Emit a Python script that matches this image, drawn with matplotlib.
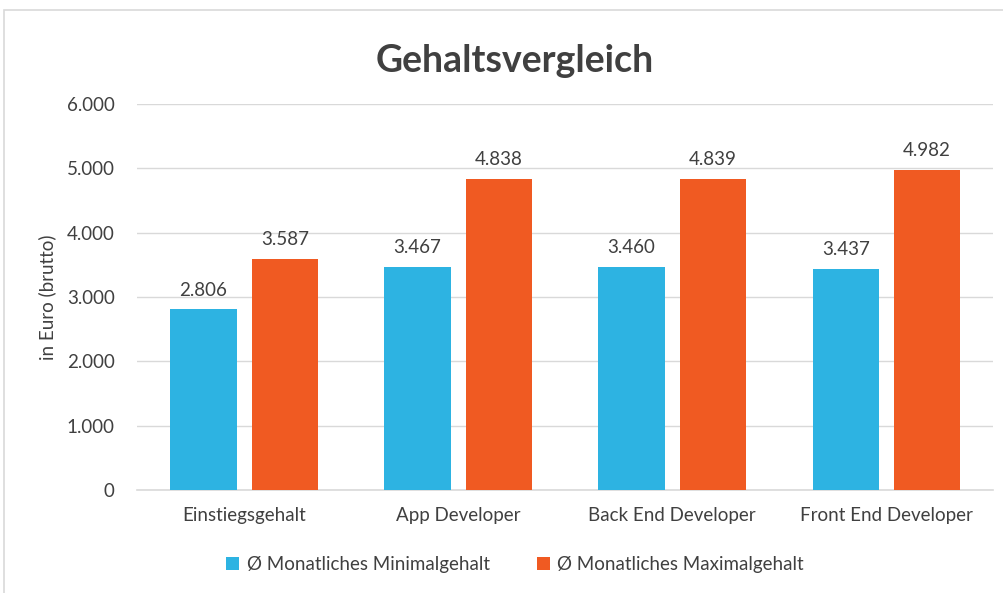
import matplotlib.pyplot as plt
import numpy as np
from matplotlib.patches import Rectangle
from matplotlib.ticker import FuncFormatter

plt.rcParams['font.family'] = ['Lato', 'DejaVu Sans']

categories = ["Einstiegsgehalt", "App Developer", "Back End Developer", "Front End Developer"]
min_gehalt = [2806, 3467, 3460, 3437]
max_gehalt = [3587, 4838, 4839, 4982]
series_names = ["Ø Monatliches Minimalgehalt", "Ø Monatliches Maximalgehalt"]

blue = "#2DB3E2"
orange = "#F05A22"
grid_c = "#D9D9D9"
text_c = "#404040"


def de_fmt(v, pos=None):
    return f"{int(round(v)):,}".replace(",", ".")


fig = plt.figure(figsize=(10.04, 5.93), dpi=100)
ax = fig.add_axes([0.1365, 0.1737, 0.853, 0.6509])

# chart frame
fig.patches.append(Rectangle((0.004, -0.01), 1.2, 0.993, transform=fig.transFigure,
                             fill=False, edgecolor=grid_c, linewidth=1.2))

x = np.arange(len(categories))
w = 0.31
off = 0.19
b1 = ax.bar(x - off, min_gehalt, w, color=blue, label=series_names[0], zorder=3)
b2 = ax.bar(x + off, max_gehalt, w, color=orange, label=series_names[1], zorder=3)

for bars in (b1, b2):
    for r in bars:
        ax.text(r.get_x() + r.get_width() / 2, r.get_height() + 170, de_fmt(r.get_height()),
                ha="center", va="bottom", fontsize=13.5, color=text_c)

ax.set_xlim(-0.5, len(categories) - 0.5)
ax.set_ylim(0, 6000)
ax.set_yticks(np.arange(0, 6001, 1000))
ax.yaxis.set_major_formatter(FuncFormatter(de_fmt))
ax.set_xticks(x)
ax.set_xticklabels(categories)
ax.tick_params(axis="both", length=0, labelsize=13.5, colors=text_c)
ax.tick_params(axis="x", pad=12)
ax.tick_params(axis="y", pad=16)
ax.grid(axis="y", color=grid_c, linewidth=1, zorder=0)
for s in ["top", "right", "left"]:
    ax.spines[s].set_visible(False)
ax.spines["bottom"].set_color(grid_c)
ax.spines["bottom"].set_linewidth(1.2)

ax.set_ylabel("in Euro (brutto)", fontsize=13.5, color=text_c, labelpad=8)

fig.text(0.513, 0.897, "Gehaltsvergleich", ha="center", va="center",
         fontsize=27, fontweight="bold", color=text_c)

fig.legend(loc="center", bbox_to_anchor=(0.513, 0.048), ncol=2, frameon=False,
           fontsize=13.5, handlelength=0.7, handleheight=0.7, columnspacing=2.5,
           handletextpad=0.4, labelcolor=text_c)

fig.savefig("out.png", dpi=100)
